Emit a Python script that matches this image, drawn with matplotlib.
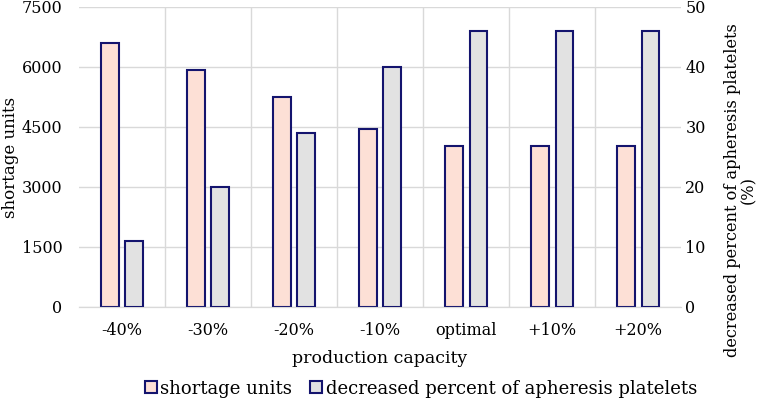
import matplotlib.pyplot as plt
import numpy as np
from matplotlib.ticker import FixedLocator

plt.rcParams['font.family'] = ['DejaVu Serif']

categories = ["-40%", "-30%", "-20%", "-10%", "optimal", "+10%", "+20%"]
shortage_units = [6590, 5920, 5250, 4460, 4020, 4020, 4020]
decreased_percent = [11, 20, 29, 40, 46, 46, 46]

pink = "#fde0d6"
grey = "#e2e2e2"
edge = "#14146e"

fig = plt.figure(figsize=(7.67, 4.05), dpi=100)
ax = fig.add_axes([0.103, 0.242, 0.785, 0.741])
ax2 = ax.twinx()

x = np.arange(len(categories))
w = 0.2
ax.bar(x - 0.14, shortage_units, w, color=pink, edgecolor=edge, linewidth=1.5,
       label="shortage units", zorder=3)
ax2.bar(x + 0.14, decreased_percent, w, color=grey, edgecolor=edge, linewidth=1.5,
        label="decreased percent of apheresis platelets", zorder=3)

ax.set_xlim(-0.5, len(categories) - 0.5)
ax.set_ylim(0, 7500)
ax.set_yticks([0, 1500, 3000, 4500, 6000, 7500])
ax2.set_ylim(0, 50)
ax2.set_yticks([0, 10, 20, 30, 40, 50])
ax.set_xticks(x)
ax.set_xticklabels(categories)
ax.xaxis.set_minor_locator(FixedLocator(np.arange(0.5, len(categories) - 1, 1)))

ax.grid(axis='y', color="#d9d9d9", linewidth=1, zorder=0)
ax.grid(axis='x', which='minor', color="#d9d9d9", linewidth=1, zorder=0)
ax.set_axisbelow(True)

for a in (ax, ax2):
    for s in ("top", "left", "right"):
        a.spines[s].set_visible(False)
    a.spines["bottom"].set_color("#d9d9d9")
    a.tick_params(which='both', length=0, labelsize=11.5)
ax.tick_params(axis='x', pad=11)
ax.tick_params(axis='y', pad=12)
ax2.tick_params(axis='y', pad=3)

ax.set_xlabel("production capacity", fontsize=12.5, labelpad=8)
ax.set_ylabel("shortage units", fontsize=12)
ax.yaxis.set_label_coords(-0.1, 0.5)
fig.text(0.966, 0.53, "decreased percent of apheresis platelets\n(%)", fontsize=11.7,
         rotation=90, ha='center', va='center', multialignment='center',
         linespacing=0.95)

h1, l1 = ax.get_legend_handles_labels()
h2, l2 = ax2.get_legend_handles_labels()
fig.legend(h1 + h2, l1 + l2, loc="center", bbox_to_anchor=(0.549, 0.04), ncol=2,
           frameon=False, fontsize=13, handlelength=0.65, handleheight=0.65,
           handletextpad=0.2, columnspacing=1.0, borderpad=0)

fig.savefig("out.png", dpi=100)
